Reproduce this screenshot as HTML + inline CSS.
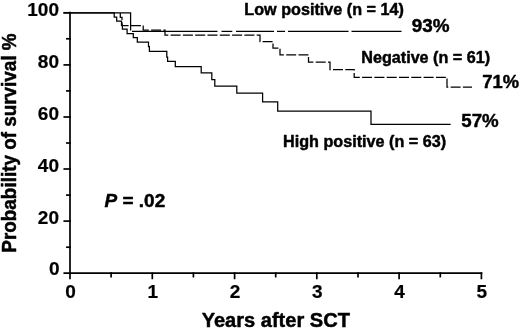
<!DOCTYPE html>
<html><head><meta charset="utf-8"><style>
html,body{margin:0;padding:0;background:#fff;}
svg{display:block;filter:grayscale(1);}
text{font-family:"Liberation Sans",sans-serif;font-weight:bold;fill:#000;stroke:#000;stroke-width:0.45px;stroke-linejoin:round;}
.tk{stroke-width:0.2px;}
</style></head><body>
<svg width="520" height="330" viewBox="0 0 520 330">
<rect width="520" height="330" fill="#fff"/>
<g fill="none" stroke="#000" stroke-width="1.25" stroke-linecap="square" stroke-linejoin="miter">
<path d="M70 12.6 V278.4 M64.3 273.2 H481.4" stroke-width="1.7" />
<path d="M64.3 12.8 H70" stroke-width="1.7" />
<path d="M64.3 64.9 H70" stroke-width="1.7" />
<path d="M64.3 117.0 H70" stroke-width="1.7" />
<path d="M64.3 169.0 H70" stroke-width="1.7" />
<path d="M64.3 221.1 H70" stroke-width="1.7" />
<path d="M66.9 38.8 H70" stroke-width="1.7" />
<path d="M66.9 90.9 H70" stroke-width="1.7" />
<path d="M66.9 143.0 H70" stroke-width="1.7" />
<path d="M66.9 195.1 H70" stroke-width="1.7" />
<path d="M66.9 247.2 H70" stroke-width="1.7" />
<path d="M152.3 273.2 V278.4" stroke-width="1.7" />
<path d="M234.6 273.2 V278.4" stroke-width="1.7" />
<path d="M316.8 273.2 V278.4" stroke-width="1.7" />
<path d="M399.1 273.2 V278.4" stroke-width="1.7" />
<path d="M481.4 273.2 V278.4" stroke-width="1.7" />
<path d="M111.1 273.2 V276.6" stroke-width="1.7" />
<path d="M193.4 273.2 V276.6" stroke-width="1.7" />
<path d="M275.7 273.2 V276.6" stroke-width="1.7" />
<path d="M358.0 273.2 V276.6" stroke-width="1.7" />
<path d="M440.3 273.2 V276.6" stroke-width="1.7" />
<path d="M70.0 12.9 L114.2 12.9 L114.2 17.0 L116.7 17.0 L116.7 21.2 L121.5 21.2 L121.5 25.0 L122.4 25.0 L122.4 29.0 L127.1 29.0 L127.1 33.6 L133.3 33.6 L133.3 37.6 L137.3 37.6 L137.3 42.2 L148.5 42.2 L148.5 46.5 L149.4 46.5 L149.4 51.4 L166.8 51.4 L166.8 57.0 L167.6 57.0 L167.6 61.3 L175.3 61.3 L175.3 66.6 L201.2 66.6 L201.2 72.8 L211.8 72.8 L211.8 79.6 L214.8 79.6 L214.8 86.1 L236.8 86.1 L236.8 93.1 L262.6 93.1 L262.6 101.9 L277.7 101.9 L277.7 111.2 L371.0 111.2 L371.0 124.3 L450.0 124.3" />
<path d="M64.0 12.9 H130.6 V29.8" />
<path d="M132.0 31.4 H217.5" stroke-linecap="butt" />
<path d="M221.5 31.4 H232.3" stroke-linecap="butt" />
<path d="M236.0 31.4 H274" stroke-linecap="butt" />
<path d="M277 31.4 H285" stroke-linecap="butt" />
<path d="M288 31.4 H348.5" stroke-linecap="butt" />
<path d="M351.5 31.4 H401.5" stroke-linecap="butt" />
<path d="M120.3 12.9 L120.3 17.3 L122.0 17.3 L122.0 25.6 L143.2 25.6 L143.2 30.0 L165.0 30.0 L165.0 35.1 L260.0 35.1 L260.0 41.5 L273.0 41.5 L273.0 48.0 L280.0 48.0 L280.0 54.8 L308.5 54.8 L308.5 62.2 L330.0 62.2 L330.0 69.5 L354.2 69.5 L354.2 77.3 L447.0 77.3 L447.0 87.2 L472.0 87.2" stroke-dasharray="10 2.3" stroke-dashoffset="1.3" stroke-linecap="butt" />
</g>
<g>
<text transform="translate(244.3 14.6) scale(1.012 1)" font-size="16.0" text-anchor="start" >Low positive (n = 14)</text>
<text transform="translate(411.8 31.6) scale(1.015 1)" font-size="18.6" text-anchor="start" >93%</text>
<text transform="translate(361.2 63.3) scale(1.012 1)" font-size="16.0" text-anchor="start" >Negative (n = 61)</text>
<text transform="translate(482.3 88.3) scale(0.985 1)" font-size="18.6" text-anchor="start" >71%</text>
<text transform="translate(283.0 146.6) scale(1.012 1)" font-size="16.0" text-anchor="start" >High positive (n = 63)</text>
<text transform="translate(461.3 126.7) scale(1.005 1)" font-size="18.6" text-anchor="start" >57%</text>
<text transform="translate(104.5 207) scale(1.085 1)" font-size="17.5"><tspan font-style="italic">P</tspan> = .02</text>
<text transform="translate(59.0 15.5) scale(1.0 1)" font-size="19" text-anchor="end" class="tk">100</text>
<text transform="translate(59.0 67.6) scale(1.0 1)" font-size="19" text-anchor="end" class="tk">80</text>
<text transform="translate(59.0 119.7) scale(1.0 1)" font-size="19" text-anchor="end" class="tk">60</text>
<text transform="translate(59.0 171.7) scale(1.0 1)" font-size="19" text-anchor="end" class="tk">40</text>
<text transform="translate(59.0 223.8) scale(1.0 1)" font-size="19" text-anchor="end" class="tk">20</text>
<text transform="translate(59.6 275.0) scale(1.0 1)" font-size="19" text-anchor="end" class="tk">0</text>
<text transform="translate(70.5 297.5) scale(1.0 1)" font-size="19" text-anchor="middle" class="tk">0</text>
<text transform="translate(152.8 297.5) scale(1.0 1)" font-size="19" text-anchor="middle" class="tk">1</text>
<text transform="translate(235.1 297.5) scale(1.0 1)" font-size="19" text-anchor="middle" class="tk">2</text>
<text transform="translate(317.3 297.5) scale(1.0 1)" font-size="19" text-anchor="middle" class="tk">3</text>
<text transform="translate(399.6 297.5) scale(1.0 1)" font-size="19" text-anchor="middle" class="tk">4</text>
<text transform="translate(481.9 297.5) scale(1.0 1)" font-size="19" text-anchor="middle" class="tk">5</text>
<text transform="translate(275.8 327) scale(1.04 1)" font-size="19.3" text-anchor="middle" >Years after SCT</text>
<text transform="translate(15.5 143) scale(1.085 1) rotate(-90)" font-size="18.9" text-anchor="middle">Probability of survival %</text>
</g>
</svg>
</body></html>
